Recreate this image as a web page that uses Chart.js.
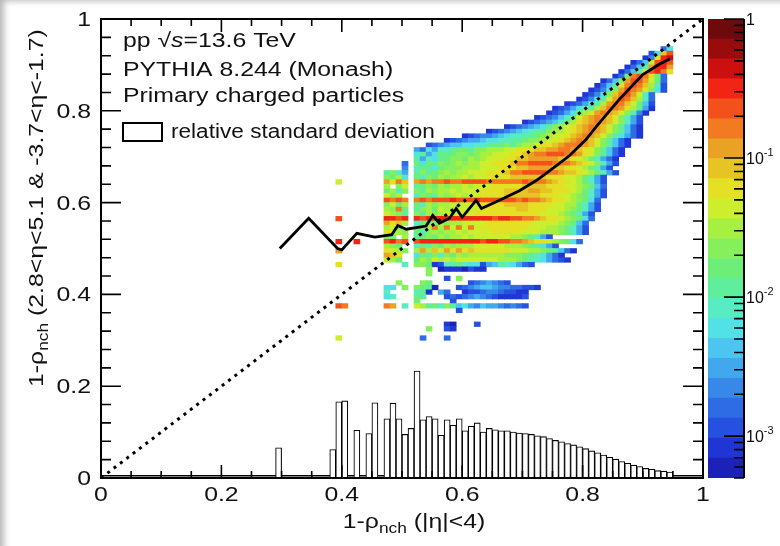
<!DOCTYPE html>
<html>
<head>
<meta charset="utf-8">
<title>1-rho nch forward vs central</title>
<script src="https://cdn.jsdelivr.net/npm/chart.js@4.4.1/dist/chart.umd.min.js"></script>
<style>
  html, body { margin: 0; padding: 0; background: #fff; }
  #wrap { position: relative; width: 780px; height: 546px; overflow: hidden; }
  #main { position: absolute; left: 0; top: 0; }
  #zbar { position: absolute; left: 700px; top: 0; }
  #shade { position: absolute; left: 0; top: 0; width: 780px; height: 546px; pointer-events: none;
           box-shadow: inset 7px 4px 6px -3px rgba(0, 0, 0, 0.28); }
</style>
</head>
<body>
<div id="wrap">
  <canvas id="main" width="780" height="546"></canvas>
  <canvas id="zbar" width="80" height="546"></canvas>
  <div id="shade"></div>
</div>
<script>
const BIN = 0.01;

// colour scale (log z), contour bands from bottom to top
const Z_MIN = 5e-4;
const bandColors = [
  '#1c22b8', '#2036d4', '#2650e0', '#2e6ce6', '#3888ea', '#42a8ee', '#4cc6f0', '#52e2e6',
  '#58ecc4', '#5eee9c', '#6cee78', '#86f05c', '#a8f040', '#ccee2c', '#e4e024', '#e6c424',
  '#eaa224', '#f27a20', '#f4501c', '#f22416', '#cc1010', '#9a0c0c', '#6e0a0c'
];
const zTickValues = [1e-3, 1e-2, 1e-1, 1];
const zTickExp = ['-3', '-2', '-1', ''];

const xTickValues = [0, 0.2, 0.4, 0.6, 0.8, 1];
const xTickLabels = ['0', '0.2', '0.4', '0.6', '0.8', '1'];
const yTickValues = [0, 0.2, 0.4, 0.6, 0.8, 1];
const yTickLabels = ['0', '0.2', '0.4', '0.6', '0.8', '1'];

// mean of the 2D distribution
const meanX = [0.297, 0.345, 0.393, 0.400, 0.425, 0.455, 0.483, 0.493, 0.507, 0.540, 0.551, 0.562,
  0.579, 0.590, 0.600, 0.623, 0.632, 0.662, 0.695, 0.723, 0.750, 0.778, 0.806, 0.823, 0.861, 0.900, 0.928, 0.945];
const meanY = [0.500, 0.566, 0.500, 0.497, 0.533, 0.525, 0.530, 0.550, 0.542, 0.549, 0.572, 0.555,
  0.566, 0.587, 0.568, 0.605, 0.587, 0.605, 0.626, 0.648, 0.674, 0.702, 0.738, 0.766, 0.825, 0.879, 0.902, 0.913];

// relative standard deviation histogram (bin low edges)
const histX = [0.29, 0.38, 0.39, 0.40, 0.42, 0.44, 0.45, 0.47, 0.48, 0.49, 0.50, 0.51, 0.52, 0.53, 0.54,
  0.55, 0.56, 0.57, 0.58, 0.59, 0.60, 0.61, 0.62, 0.63, 0.64, 0.65, 0.66, 0.67, 0.68, 0.69, 0.70, 0.71,
  0.72, 0.73, 0.74, 0.75, 0.76, 0.77, 0.78, 0.79, 0.80, 0.81, 0.82, 0.83, 0.84, 0.85, 0.86, 0.87, 0.88,
  0.89, 0.90, 0.91, 0.92, 0.93, 0.94];
const histY = [0.066, 0.062, 0.166, 0.168, 0.104, 0.097, 0.164, 0.129, 0.163, 0.129, 0.095, 0.108, 0.233, 0.127, 0.134,
  0.129, 0.093, 0.127, 0.115, 0.129, 0.103, 0.113, 0.120, 0.100, 0.108, 0.105, 0.103, 0.103, 0.100, 0.098, 0.097, 0.095,
  0.092, 0.090, 0.086, 0.082, 0.079, 0.075, 0.072, 0.068, 0.064, 0.059, 0.055, 0.050, 0.045, 0.041, 0.036, 0.032, 0.028,
  0.025, 0.021, 0.019, 0.016, 0.015, 0.013];
const floorX = [0, 1];
const floorY = [0.005, 0.005];

const diagX = [0, 1];
const diagY = [0, 1];

// 2D histogram, one row per y bin: low edge of y, low edge of first x cell, band index per cell ('.' = empty)
const heatRowY = [0.93, 0.92, 0.91, 0.90, 0.89, 0.88, 0.87, 0.86, 0.85, 0.84, 0.83, 0.82, 0.81, 0.80, 0.79, 0.78,
  0.77, 0.76, 0.75, 0.74, 0.73, 0.72, 0.71, 0.70, 0.69, 0.68, 0.67, 0.66, 0.65, 0.64, 0.63, 0.62, 0.61, 0.60,
  0.59, 0.58, 0.57, 0.56, 0.55, 0.54, 0.53, 0.52, 0.51, 0.50, 0.49, 0.48, 0.47, 0.46, 0.45, 0.44, 0.43, 0.42,
  0.41, 0.40, 0.39, 0.38, 0.37, 0.36, 0.33, 0.32, 0.30];
const heatRowX0 = [0.93, 0.91, 0.90, 0.88, 0.87, 0.86, 0.85, 0.83, 0.82, 0.81, 0.80, 0.79, 0.77, 0.75, 0.74, 0.72,
  0.70, 0.67, 0.64, 0.60, 0.57, 0.54, 0.52, 0.52, 0.52, 0.50, 0.50, 0.47, 0.47, 0.39, 0.47, 0.47, 0.47, 0.47,
  0.47, 0.47, 0.47, 0.39, 0.47, 0.47, 0.47, 0.47, 0.39, 0.47, 0.39, 0.47, 0.47, 0.39, 0.54, 0.54, 0.57, 0.49,
  0.47, 0.47, 0.47, 0.52, 0.39, 0.59, 0.57, 0.54, 0.39];
const heatRowLevels = [
  '37',
  '27FI',
  '14EJK',
  '136DIJI',
  '1369GJJG',
  '1369EIJHE',
  '13AHIHEA3',
  '136BGIIGDA3',
  '1369EHIHFC82',
  '1247BGIHGEB72',
  '1247BFHIGD83',
  '12479DGIHFC83',
  '123579CGHHFDA62',
  '1235789CFHHGEC951',
  '12357ACEGHGFDB841',
  '123468ADFGHGFDB852',
  '1234568ACEFGHGFDB852',
  '12345679BCDEFGHGFDB9631',
  '1234567899BCCDEFGHGFDB9631',
  '123445678899ABCDDEFGHGFDB97531',
  '1234556778899ABBCDDEFGHGFDB9631',
  '23456677889AAB9BCCDEEFGHHHGFDB9631',
  '5375889AA9BBCCCDDEEEFFGGHHGFEDB9631',
  '7957A9ABBABCCDDDEEFGHHIIIHHGEDB9631',
  '95879ABBACBCDDDEEFFGGGGGFFEDCA8531',
  '3.A7A9BABCBCCDDEEEFHHIIIIHHHGFEDB852',
  '4.8A98ABBBCCCDDDEEEFFGGGGFFEEDCA852',
  '9B85.9B9ABCBCCDDDEEEFHHIIIIHHGFFEDCA852',
  'BAC7.A8BACBCCDCDDEEEEFFFFFFEEEDDCA852',
  'D.......GEHF.GHGHHIHHIIIIHHHHHHIHHHGFEEDCA852',
  'C.BD.9ABACBCCDCDDDEEEEEFFFFEEEDDCBA63',
  'AC8B.B9CBCCDCDDDEEEEFFFFGGFFEEEDCA852',
  'DBC..8BA9CBCDCDDEEEEFFFFFFEEEDDCBA852',
  'IHIH.HIHIIIJIIIJIIIIIIHIHHGFEEDCBA73',
  'BDAC.A8CBCCDCDDDEEEEFFFFEEEEDDCCA852',
  'CBHA.9BCADCCDDDDEEEEEEFFEEEDDDCBA852',
  'DCB9.B9CBCDCDDDEEEEEEEEEEEDDDCBA852',
  'I.......JJIJ.JIJJJJJJJJJJJIJJIIHHGFEEDCBA73',
  'GEFC.8ABACBCCDDDDEEEEEEEEDDDDCBA63',
  'CDB..9BCHCHDHDHDEEEEEEEEDDDCCBA852',
  'EDCB.A8BCBCCDCDDDDEEEEEDDDCCCBA852',
  'BA.C.9ABACBCCDCDDDDDDCCBA852',
  'J..J....IJHI.IJJJJJJJJJJIJJIIHHGFEEDCBA73',
  'CBA..8A9BACBCCCDDDDDCCCBA9752',
  'G.......EDCB.CGCFDGEGEFEEEEEEDDDCCBA9631',
  'GFE..7A9B8BACBCCCCCCBBBA987531',
  'DCA..ACBDCDCDDDDDDDCCCBA9875321',
  'E..........8.BBA1289A877256987532',
  'B.01110211',
  'B',
  '2.B',
  'B...BA......2345432',
  '77.B.BA90...23456654433221',
  '8....891.53..12234432211',
  '78...A9...23234543211112',
  'A.....2',
  'IH......HG.8.DC9A8B9675465543432',
  '2',
  '10...2',
  'B..21',
  'D.............3...3'
];

const heatData = [];
const heatColors = [];
heatRowY.forEach((y0, r) => {
  const s = heatRowLevels[r];
  for (let k = 0; k < s.length; k++) {
    if (s[k] === '.') continue;
    const xc = +(heatRowX0[r] + k * BIN + BIN / 2).toFixed(3);
    heatData.push({ x: xc, y: [y0, +(y0 + BIN).toFixed(3)] });
    heatColors.push(bandColors[parseInt(s[k], 36)]);
  }
});

const histData = histX.map((x, i) => ({ x: +(x + BIN / 2).toFixed(3), y: histY[i] }));
const meanData = meanX.map((x, i) => ({ x: x, y: meanY[i] }));
const diagData = diagX.map((x, i) => ({ x: x, y: diagY[i] }));
const floorData = floorX.map((x, i) => ({ x: x, y: floorY[i] }));

const FONT = '"Liberation Sans", Arial, Helvetica, sans-serif';
const SX = 1.24;

// text made of pieces [text, size, dy, italic], stretched horizontally by sx
function drawRuns(ctx, parts, x, y, align, sx) {
  ctx.save();
  let w = 0;
  parts.forEach(p => {
    ctx.font = (p[3] ? 'italic ' : '') + p[1] + 'px ' + FONT;
    w += ctx.measureText(p[0]).width;
  });
  let cx = align === 'right' ? -w : align === 'center' ? -w / 2 : 0;
  ctx.translate(x, y);
  ctx.scale(sx, 1);
  ctx.textAlign = 'left';
  ctx.textBaseline = 'alphabetic';
  ctx.fillStyle = '#111';
  parts.forEach(p => {
    ctx.font = (p[3] ? 'italic ' : '') + p[1] + 'px ' + FONT;
    ctx.fillText(p[0], cx, p[2]);
    cx += ctx.measureText(p[0]).width;
  });
  ctx.restore();
}

const framePlugin = {
  id: 'frame',
  afterDraw(chart) {
    const { ctx, chartArea: a, scales: { x, y } } = chart;
    ctx.save();
    ctx.strokeStyle = '#000';
    ctx.lineWidth = 2;
    ctx.strokeRect(a.left, a.top, a.right - a.left, a.bottom - a.top);

    ctx.lineWidth = 1.6;
    ctx.beginPath();
    for (let i = 0; i <= 20; i++) {
      const v = i * 0.05;
      const len = i % 4 === 0 ? 13 : 7;
      const px = x.getPixelForValue(v);
      ctx.moveTo(px, a.bottom); ctx.lineTo(px, a.bottom - len);
      ctx.moveTo(px, a.top); ctx.lineTo(px, a.top + len);
    }
    for (let i = 0; i <= 25; i++) {
      const v = i * 0.04;
      const len = i % 5 === 0 ? 20 : 10;
      const py = y.getPixelForValue(v);
      ctx.moveTo(a.left, py); ctx.lineTo(a.left + len, py);
      ctx.moveTo(a.right, py); ctx.lineTo(a.right - len, py);
    }
    ctx.stroke();

    xTickValues.forEach((v, i) => drawRuns(ctx, [[xTickLabels[i], 20, 0]], x.getPixelForValue(v), 501, 'center', SX));
    yTickValues.forEach((v, i) => drawRuns(ctx, [[yTickLabels[i], 20, 0]], 91, y.getPixelForValue(v) + 7, 'right', SX));

    drawRuns(ctx, [['1-\u03c1', 20, 0], ['nch', 14, 5], [' (|\u03b7|<4)', 20, 0]], 414, 528, 'center', SX);
    ctx.save();
    ctx.translate(43, 387);
    ctx.rotate(-Math.PI / 2);
    drawRuns(ctx, [['1-\u03c1', 20, 0], ['nch', 14, 5], [' (2.8<\u03b7<5.1 & -3.7<\u03b7<-1.7)', 20, 0]], 0, 0, 'left', SX);
    ctx.restore();

    drawRuns(ctx, [['pp ', 20, 0], ['\u221a', 20, 0], ['s', 20, 0, true], ['=13.6 TeV', 20, 0]], 123, 47, 'left', SX);
    drawRuns(ctx, [['PYTHIA 8.244 (Monash)', 20, 0]], 123, 76, 'left', SX);
    drawRuns(ctx, [['Primary charged particles', 20, 0]], 123, 102, 'left', SX);
    ctx.lineWidth = 2;
    ctx.strokeStyle = '#000';
    ctx.strokeRect(123, 123, 39, 18);
    drawRuns(ctx, [['relative standard deviation', 20, 0]], 171, 138, 'left', 1.13);
    ctx.restore();
  }
};

new Chart(document.getElementById('main'), {
  type: 'bar',
  data: {
    datasets: [
      {
        label: '2D', data: heatData, backgroundColor: heatColors, borderWidth: 0,
        grouped: false, barPercentage: 1, categoryPercentage: 1, order: 5
      },
      {
        type: 'line', label: 'floor', data: floorData, borderColor: '#000', borderWidth: 1.4,
        pointRadius: 0, order: 4
      },
      {
        label: 'relative standard deviation', data: histData, backgroundColor: '#fff', borderColor: '#000',
        borderWidth: 1.1, borderSkipped: false, grouped: false, barPercentage: 1, categoryPercentage: 1, order: 3
      },
      {
        type: 'line', label: 'diagonal', data: diagData, borderColor: '#000', borderWidth: 3,
        borderDash: [3, 5], pointRadius: 0, order: 2
      },
      {
        type: 'line', label: 'mean', data: meanData, borderColor: '#000', borderWidth: 2.8,
        pointRadius: 0, tension: 0, order: 1
      }
    ]
  },
  options: {
    responsive: false,
    animation: false,
    events: [],
    layout: { padding: { left: 0, top: 19, right: 77, bottom: 0 } },
    plugins: { legend: { display: false }, tooltip: { enabled: false } },
    scales: {
      x: {
        type: 'linear', min: 0, max: 1, offset: false,
        grid: { display: false }, border: { display: false },
        ticks: { display: false, stepSize: 0.2 },
        afterFit: s => { s.height = 68; }
      },
      y: {
        type: 'linear', min: 0, max: 1,
        grid: { display: false }, border: { display: false },
        ticks: { display: false, stepSize: 0.2 },
        afterFit: s => { s.width = 101; }
      }
    }
  },
  plugins: [framePlugin]
});

// colour bar
const zLog0 = Math.log10(Z_MIN);
const zBands = bandColors.map((c, i) => ({
  data: [[Math.pow(10, zLog0 * (1 - i / bandColors.length)), Math.pow(10, zLog0 * (1 - (i + 1) / bandColors.length))]],
  backgroundColor: c, borderWidth: 0, grouped: false, barPercentage: 1, categoryPercentage: 1
}));

const zPlugin = {
  id: 'zaxis',
  afterDraw(chart) {
    const { ctx, chartArea: a, scales: { y } } = chart;
    ctx.save();
    ctx.strokeStyle = '#000';
    ctx.lineWidth = 2;
    ctx.beginPath();
    ctx.moveTo(a.right, a.top); ctx.lineTo(a.right, a.bottom);
    ctx.stroke();
    ctx.lineWidth = 1.6;
    ctx.beginPath();
    zTickValues.forEach(v => {
      const py = y.getPixelForValue(v);
      ctx.moveTo(a.right, py); ctx.lineTo(a.right - 20, py);
    });
    for (let k = -4; k < 0; k++) {
      for (let m = 2; m <= 9; m++) {
        const v = m * Math.pow(10, k);
        if (v < Z_MIN || v > 1) continue;
        const py = y.getPixelForValue(v);
        ctx.moveTo(a.right, py); ctx.lineTo(a.right - 10, py);
      }
    }
    ctx.stroke();
    zTickValues.forEach((v, i) => {
      const py = y.getPixelForValue(v);
      const parts = zTickExp[i] ? [['10', 16, 0], [zTickExp[i], 11, -8]] : [['1', 16, 0]];
      drawRuns(ctx, parts, a.right + 2, py + 6, 'left', 1.0);
    });
    ctx.restore();
  }
};

new Chart(document.getElementById('zbar'), {
  type: 'bar',
  data: { labels: [''], datasets: zBands },
  options: {
    responsive: false,
    animation: false,
    events: [],
    layout: { padding: { left: 8, top: 19, right: 0, bottom: 68 } },
    plugins: { legend: { display: false }, tooltip: { enabled: false } },
    scales: {
      x: { display: false },
      y: {
        type: 'logarithmic', position: 'right', min: Z_MIN, max: 1,
        grid: { display: false }, border: { display: false },
        ticks: { display: false },
        afterFit: s => { s.width = 36; }
      }
    }
  },
  plugins: [zPlugin]
});
</script>
</body>
</html>
